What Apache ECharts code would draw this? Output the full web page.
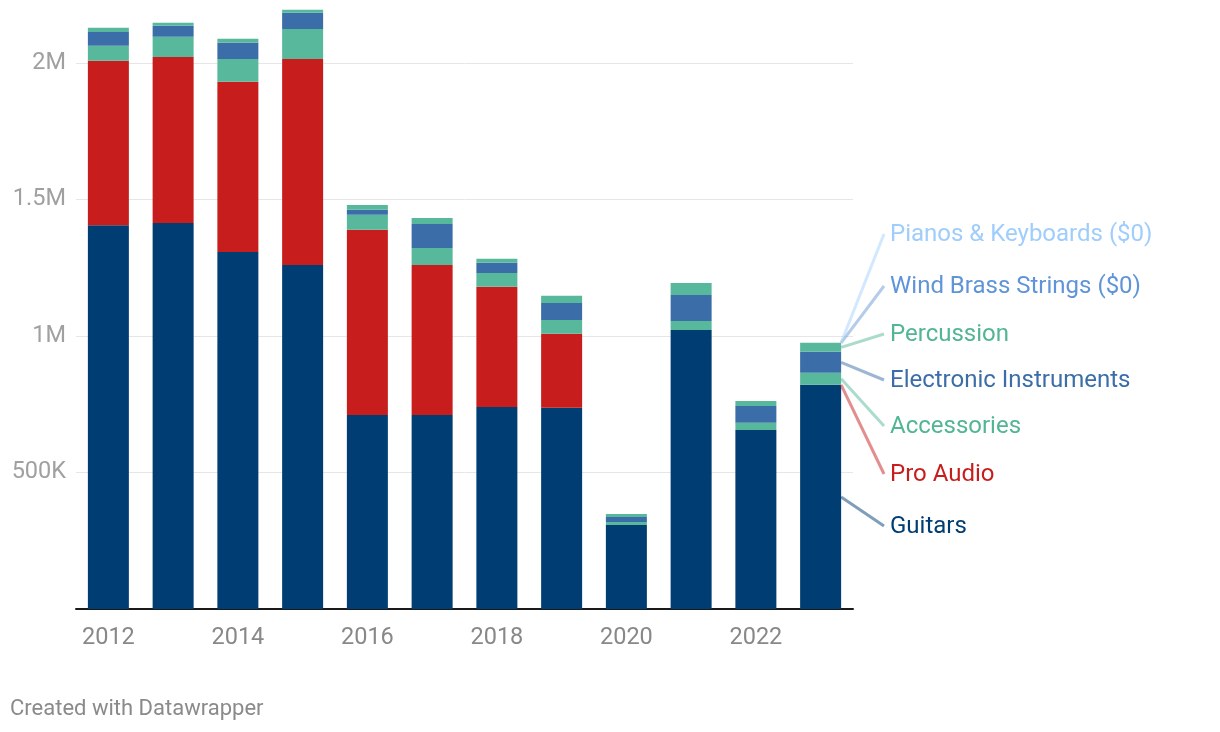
<!DOCTYPE html>
<html>
<head>
<meta charset="utf-8">
<script src="https://cdn.jsdelivr.net/npm/echarts@6/dist/echarts.min.js"></script>
<style>
  html, body { margin: 0; padding: 0; background: #fff; }
  #c { width: 1220px; height: 732px; }
</style>
</head>
<body>
<div id="c"></div>
<script>
const years = ['2012','2013','2014','2015','2016','2017','2018','2019','2020','2021','2022','2023'];
const guitars     = [1406000, 1414000, 1308000, 1260000, 711000, 711000, 740000, 737000, 308000, 1022000, 656000, 821000];
const proAudio    = [602000, 608000, 623000, 755000, 678000, 549000, 440000, 271000, 0, 0, 0, 0];
const accessories = [55000, 74000, 84000, 110000, 55000, 62000, 51000, 51000, 11000, 33000, 26000, 44000];
const electronic  = [51000, 40000, 59000, 59000, 18000, 88000, 37000, 62000, 18000, 95000, 62000, 77000];
const percussion  = [15000, 11000, 15000, 11000, 18000, 22000, 15000, 26000, 11000, 44000, 18000, 33000];
const windBrass   = [0, 0, 0, 0, 0, 0, 0, 0, 0, 0, 0, 0];
const pianos      = [0, 0, 0, 0, 0, 0, 0, 0, 0, 0, 0, 0];
const yTickLabels = {500000: '500K', 1000000: '1M', 1500000: '1.5M', 2000000: '2M'};

const seriesNames = ['Guitars', 'Pro Audio', 'Accessories', 'Electronic Instruments', 'Percussion', 'Wind Brass Strings ($0)', 'Pianos & Keyboards ($0)'];
const seriesData = [guitars, proAudio, accessories, electronic, percussion, windBrass, pianos];

// styles
const barColors  = ['#003d73', '#c71e1d', '#58b89b', '#3b6ea8', '#58b89b', '#6a9ad6', '#a6d2fd'];
const textColors = ['#003d73', '#c71e1d', '#52b594', '#3b6ea8', '#52b594', '#5f94d8', '#9fcdfc'];
const labelY = [526, 474, 426, 380, 334, 286, 234];
const BAR_W = 41;
const FONT = 'Roboto, "Noto Sans", sans-serif';

const chart = echarts.init(document.getElementById('c'), null, {renderer: 'canvas'});
chart.setOption({
  animation: false,
  backgroundColor: '#ffffff',
  grid: {left: 76, right: 367, top: 63, bottom: 123, containLabel: false},
  xAxis: {
    type: 'category',
    data: years,
    boundaryGap: true,
    axisLine: {show: true, lineStyle: {color: '#1a1a1a', width: 2}},
    axisTick: {show: false},
    axisLabel: {interval: 1, color: '#888888', fontSize: 23.5, fontFamily: FONT, margin: 17}
  },
  yAxis: {
    type: 'value',
    min: 0, max: 2000000, interval: 500000,
    axisLine: {show: false},
    axisTick: {show: false},
    splitLine: {show: true, lineStyle: {color: '#e6e6e6', width: 1}},
    axisLabel: {
      color: '#a0a0a0', fontSize: 23.5, fontFamily: FONT, margin: 10,
      formatter: v => yTickLabels[v] || ''
    }
  },
  series: seriesNames.map((n, i) => ({
    name: n,
    type: 'bar',
    stack: 'total',
    barWidth: BAR_W,
    clip: false,
    itemStyle: {color: barColors[i]},
    emphasis: {disabled: true},
    data: seriesData[i]
  }))
});

// Direct labels: lines from the 2023 segments to the labels
const last = years.length - 1;
let cum = 0;
const g = [];
seriesData.forEach((arr, i) => {
  const v = arr[last];
  const mid = cum + v / 2;
  cum += v;
  const p = chart.convertToPixel({gridIndex: 0}, [years[last], mid]);
  const x0 = p[0] + BAR_W / 2;
  g.push({
    type: 'line',
    shape: {x1: x0, y1: p[1], x2: 884, y2: labelY[i]},
    style: {stroke: barColors[i], lineWidth: 3, opacity: 0.5},
    z: 10
  });
  g.push({
    type: 'text', x: 890, y: labelY[i] + 1,
    style: {text: seriesNames[i], fill: textColors[i], font: '24px ' + FONT, verticalAlign: 'middle'},
    z: 10
  });
});
g.push({
  type: 'text', x: 10, y: 709,
  style: {text: 'Created with Datawrapper', fill: '#8a8a8a', font: '22px ' + FONT, verticalAlign: 'middle'}
});
chart.setOption({graphic: g});
</script>
</body>
</html>
